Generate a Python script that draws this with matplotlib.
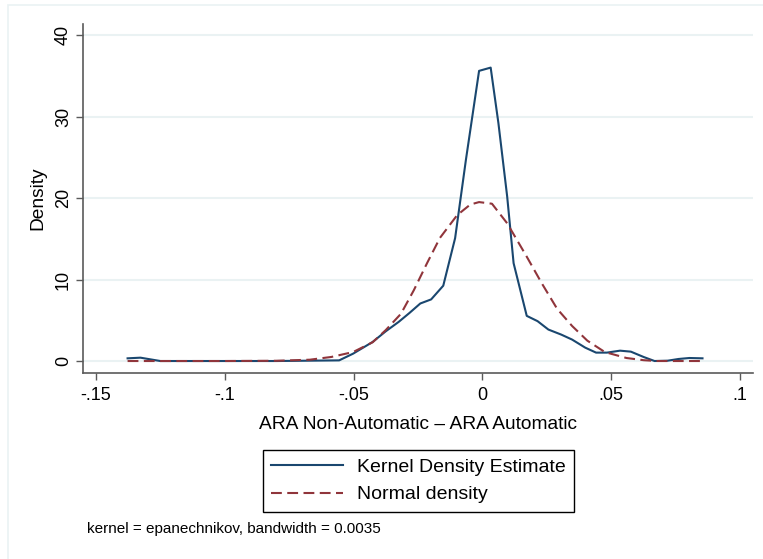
import matplotlib
matplotlib.use("Agg")
import matplotlib.pyplot as plt
from matplotlib.patches import Rectangle

plt.rcParams['font.family'] = ['Liberation Sans', 'DejaVu Sans']

# kernel density estimate
kde_x = [-0.1377, -0.1327, -0.125, -0.10, -0.08, -0.0556, -0.0502, -0.0426, -0.0375,
         -0.0325, -0.0283, -0.0241, -0.0199, -0.0152, -0.0106, -0.0064, -0.0013,
         0.0032, 0.0062, 0.0096, 0.0121, 0.0172, 0.0214, 0.0256, 0.0306, 0.0348,
         0.0399, 0.0441, 0.0483, 0.0534, 0.0576, 0.0626, 0.0668, 0.0719, 0.0761,
         0.0803, 0.0854]
kde_y = [0.33, 0.41, 0.0, 0.0, 0.0, 0.08, 0.9, 2.34, 3.65,
         4.8, 5.9, 7.06, 7.56, 9.24, 15.07, 24.7, 35.6,
         36.0, 29.2, 20.2, 12.0, 5.54, 4.89, 3.86, 3.24, 2.63,
         1.64, 1.03, 1.03, 1.27, 1.15, 0.49, 0.0, 0.04, 0.25,
         0.37, 0.33]

# normal density
norm_x = [-0.1377, -0.10, -0.08, -0.067, -0.0586, -0.0502, -0.0426, -0.0375, -0.0316,
          -0.0266, -0.0215, -0.0165, -0.0098, -0.0047, -0.0013, 0.0037, 0.0096,
          0.0172, 0.0231, 0.029, 0.0348, 0.0407, 0.0475, 0.0559, 0.0626, 0.0677,
          0.0854]
norm_y = [0.0, 0.0, 0.03, 0.16, 0.5, 1.1, 2.3, 3.8, 5.8,
          8.7, 12.0, 15.1, 17.9, 19.2, 19.5, 19.3, 16.9,
          12.8, 9.5, 6.4, 4.3, 2.5, 1.1, 0.37, 0.1, 0.0,
          0.0]

xticks = [-0.15, -0.1, -0.05, 0, 0.05, 0.1]
xticklabels = ['-.15', '-.1', '-.05', '0', '.05', '.1']
yticks = [0, 10, 20, 30, 40]

fig = plt.figure(figsize=(7.63, 5.59), dpi=100)
fig.patches.append(Rectangle((8 / 763, -0.1), 1.2, 1.1 - 5 / 559, transform=fig.transFigure,
                             fill=False, edgecolor='#eaf2f3', lw=1.2))
ax = fig.add_axes([83 / 763, 1 - 373 / 559, 670 / 763, 349 / 559])

ax.plot(kde_x, kde_y, color='#1a476f', lw=1.5, label='Kernel Density Estimate')
ax.plot(norm_x, norm_y, color='#90353b', lw=1.5, linestyle=(0, (5.2, 2.6)),
        label='Normal density')

ax.set_xlim(-0.155, 0.105)
ax.set_ylim(-1.47, 41.35)
ax.set_xticks(xticks)
ax.set_xticklabels(xticklabels)
ax.set_yticks(yticks)
ax.grid(axis='y', color='#eaf2f3', lw=1.5)
ax.set_axisbelow(True)

for s in ['top', 'right']:
    ax.spines[s].set_visible(False)
for s in ['left', 'bottom']:
    ax.spines[s].set_color('#5a5a5a')
    ax.spines[s].set_linewidth(1.2)
ax.tick_params(length=5, width=1, color='#5a5a5a', labelsize=13, labelcolor='black')
ax.tick_params(axis='x', pad=5)
ax.tick_params(axis='y', labelrotation=90, pad=3)
for lab in ax.get_yticklabels():
    lab.set_va('center')

ax.set_xlabel('ARA Non-Automatic \u2013 ARA Automatic', fontsize=13.8, labelpad=9)
ax.set_ylabel('Density', fontsize=13.8, labelpad=6)

fig.legend(loc='center', bbox_to_anchor=(0.5485, 0.1395), fontsize=14, frameon=True,
           fancybox=False, edgecolor='black', framealpha=1, handlelength=3.7,
           handletextpad=0.7, borderpad=0.45, labelspacing=0.5)

fig.text(87 / 763, 1 - 529 / 559, 'kernel = epanechnikov, bandwidth = 0.0035',
         fontsize=11, va='center', ha='left')

fig.savefig('out.png', dpi=100)
